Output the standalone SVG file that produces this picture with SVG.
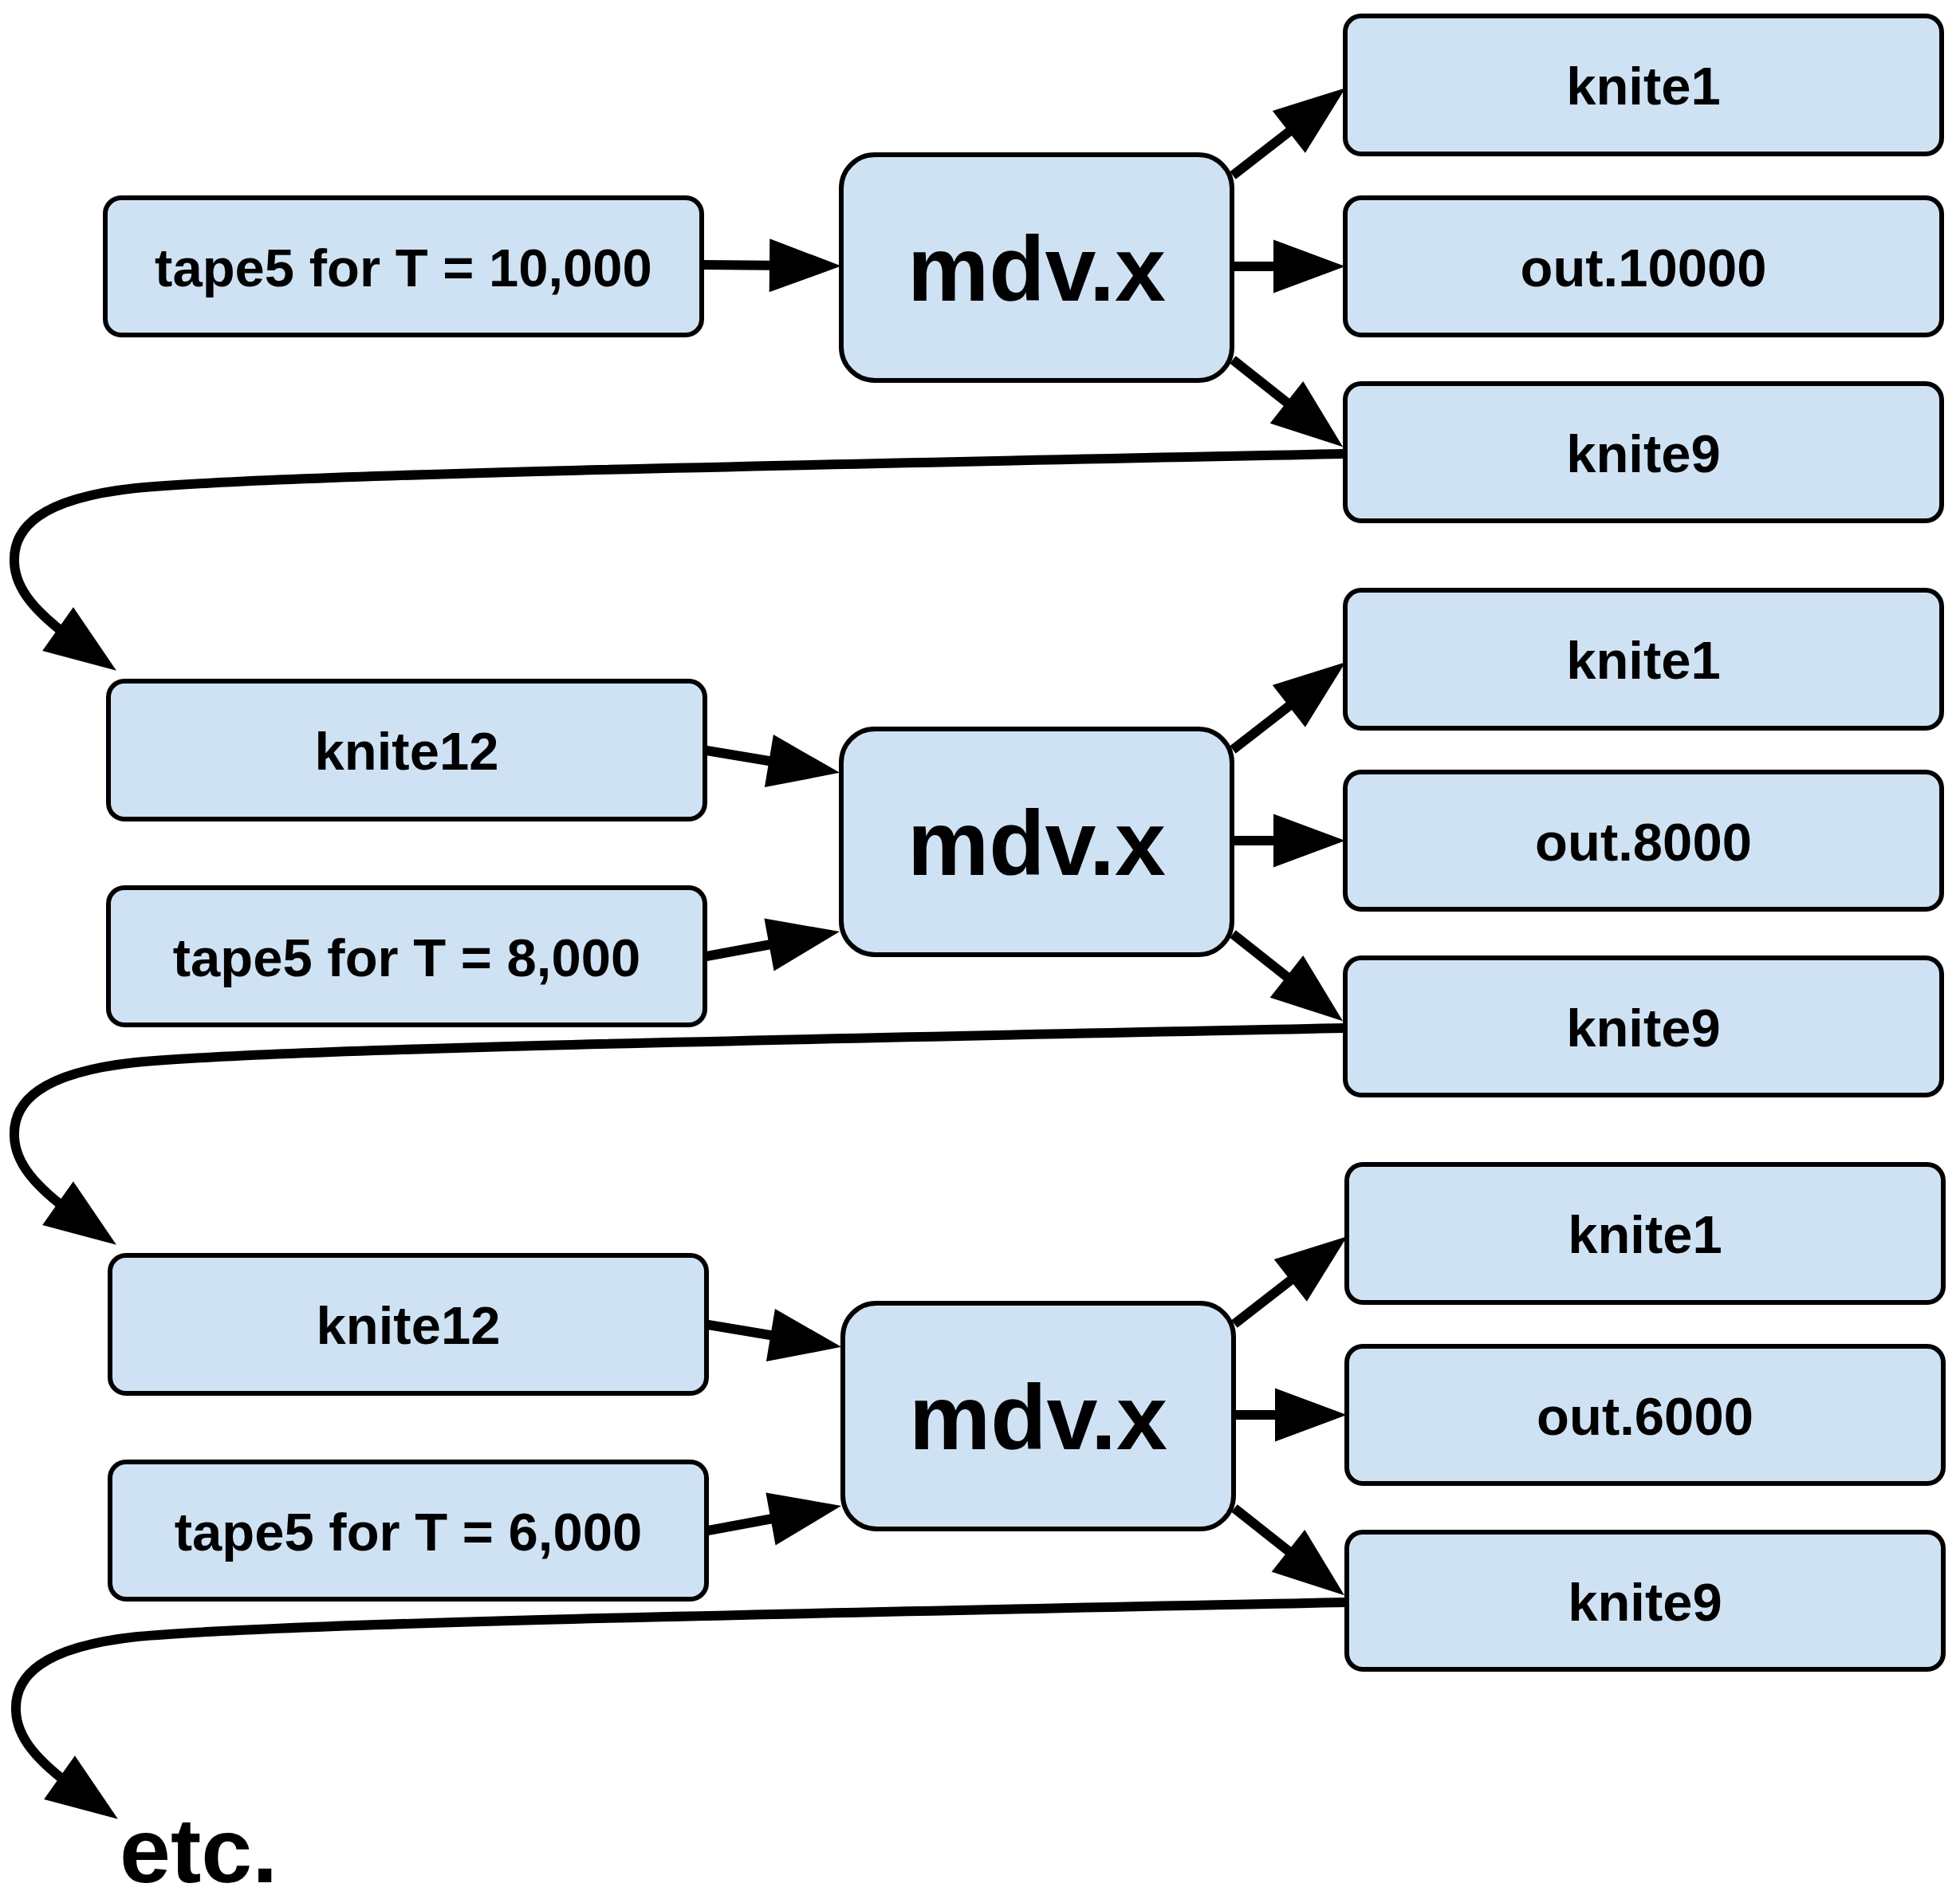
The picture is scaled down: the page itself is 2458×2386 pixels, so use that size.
<svg xmlns="http://www.w3.org/2000/svg" width="2458" height="2386" viewBox="0 0 2458 2386">
<style>
.box{fill:#cfe2f3;stroke:#000;stroke-width:6}
.lbl{font-family:"Liberation Sans",Arial,sans-serif;font-weight:bold;font-size:67px;text-anchor:middle;fill:#000}
.big{font-family:"Liberation Sans",Arial,sans-serif;font-weight:bold;font-size:115px;text-anchor:middle;fill:#000}
.etc{font-family:"Liberation Sans",Arial,sans-serif;font-weight:bold;font-size:115px;fill:#000}
.con{fill:none;stroke:#000;stroke-width:12;marker-end:url(#ah)}
</style>
<defs>
<marker id="ah" markerUnits="userSpaceOnUse" markerWidth="90" markerHeight="67" refX="30" refY="33.5" orient="auto" overflow="visible"><path d="M0,0 L90,33.5 L0,67 z" fill="#000"/></marker>
</defs>
<rect width="2458" height="2386" fill="#fff"/>
<g id="connectors">
<path class="con" d="M880,332 L995,333"/>
<path class="con" d="M1546,220 L1640,147"/>
<path class="con" d="M1546,334 L1627,334"/>
<path class="con" d="M1546,451 L1637,523"/>
<path class="con" d="M1687,569 C1000,583 350,595 170,612 C50,625 16,662 18,705 C19,737 42,767 97,806"/>
<path class="con" d="M886,941 L994,959"/>
<path class="con" d="M886,1199 L994,1179"/>
<path class="con" d="M1546,940 L1640,867"/>
<path class="con" d="M1546,1054 L1627,1054"/>
<path class="con" d="M1546,1171 L1637,1243"/>
<path class="con" d="M1687,1289 C1000,1303 350,1315 170,1332 C50,1345 16,1382 18,1425 C19,1457 42,1487 97,1526"/>
<path class="con" d="M888,1661 L996,1679"/>
<path class="con" d="M888,1919 L996,1899"/>
<path class="con" d="M1548,1660 L1642,1587"/>
<path class="con" d="M1548,1774 L1629,1774"/>
<path class="con" d="M1548,1891 L1639,1963"/>
<path class="con" d="M1689,2009 C1002,2023 352,2035 172,2052 C52,2065 18,2102 20,2145 C21,2177 44,2207 99,2246"/>
</g>
<g id="t10000"><rect class="box" x="132" y="248" width="748" height="172" rx="20"/><text class="lbl" x="506" y="359">tape5 for T = 10,000</text></g>
<g id="mdv1"><rect class="box" x="1055" y="194" width="490" height="283" rx="42"/><text class="big" x="1300" y="377">mdv.x</text></g>
<g id="knite1_1"><rect class="box" x="1687" y="20" width="748" height="173" rx="20"/><text class="lbl" x="2061" y="131">knite1</text></g>
<g id="out10000"><rect class="box" x="1687" y="248" width="748" height="172" rx="20"/><text class="lbl" x="2061" y="359">out.10000</text></g>
<g id="knite9_1"><rect class="box" x="1687" y="481" width="748" height="172" rx="20"/><text class="lbl" x="2061" y="592">knite9</text></g>
<g id="knite12_2"><rect class="box" x="136" y="854" width="748" height="173" rx="20"/><text class="lbl" x="510" y="965">knite12</text></g>
<g id="t8000"><rect class="box" x="136" y="1113" width="748" height="172" rx="20"/><text class="lbl" x="510" y="1224">tape5 for T = 8,000</text></g>
<g id="mdv2"><rect class="box" x="1055" y="914" width="490" height="283" rx="42"/><text class="big" x="1300" y="1097">mdv.x</text></g>
<g id="knite1_2"><rect class="box" x="1687" y="740" width="748" height="173" rx="20"/><text class="lbl" x="2061" y="851">knite1</text></g>
<g id="out8000"><rect class="box" x="1687" y="968" width="748" height="172" rx="20"/><text class="lbl" x="2061" y="1079">out.8000</text></g>
<g id="knite9_2"><rect class="box" x="1687" y="1201" width="748" height="172" rx="20"/><text class="lbl" x="2061" y="1312">knite9</text></g>
<g id="knite12_3"><rect class="box" x="138" y="1574" width="748" height="173" rx="20"/><text class="lbl" x="512" y="1685">knite12</text></g>
<g id="t6000"><rect class="box" x="138" y="1833" width="748" height="172" rx="20"/><text class="lbl" x="512" y="1944">tape5 for T = 6,000</text></g>
<g id="mdv3"><rect class="box" x="1057" y="1634" width="490" height="283" rx="42"/><text class="big" x="1302" y="1817">mdv.x</text></g>
<g id="knite1_3"><rect class="box" x="1689" y="1460" width="748" height="173" rx="20"/><text class="lbl" x="2063" y="1571">knite1</text></g>
<g id="out6000"><rect class="box" x="1689" y="1688" width="748" height="172" rx="20"/><text class="lbl" x="2063" y="1799">out.6000</text></g>
<g id="knite9_3"><rect class="box" x="1689" y="1921" width="748" height="172" rx="20"/><text class="lbl" x="2063" y="2032">knite9</text></g>
<g id="etc"><text class="etc" x="150" y="2360">etc.</text></g>
</svg>
